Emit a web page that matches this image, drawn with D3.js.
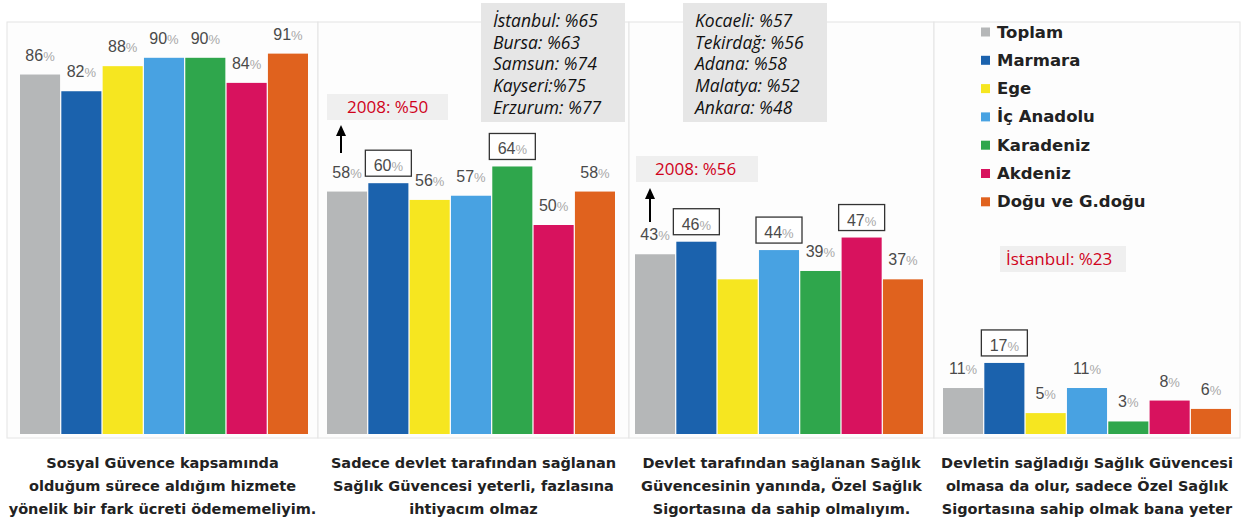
<!DOCTYPE html>
<html><head><meta charset="utf-8">
<script src="https://cdn.jsdelivr.net/npm/d3@7"></script>
<style>body{margin:0;background:#fff}svg{display:block}</style>
</head><body>
<script>
const series = ["Toplam","Marmara","Ege","İç Anadolu","Karadeniz","Akdeniz","Doğu ve G.doğu"];
const colors = ["#b5b7b8","#1b62ad","#f6e620","#48a2e2","#2fa64c","#d8125e","#e0621e"];
const panel1 = [86,82,88,90,90,84,91];
const panel2 = [58,60,56,57,64,50,58];
const panel3 = [43,46,37,44,39,47,37];
const panel4 = [11,17,5,11,3,8,6];
const panelValues = [panel1,panel2,panel3,panel4];
const labels1 = ["86%","82%","88%","90%","90%","84%","91%"];
const labels2 = ["58%","60%","56%","57%","64%","50%","58%"];
const labels3 = ["43%","46%","","44%","39%","47%","37%"];
const labels4 = ["11%","17%","5%","11%","3%","8%","6%"];
const panelLabels = [labels1,labels2,labels3,labels4];
const boxed = [[],[1,4],[1,3,5],[1]];
const captions = [
 ["Sosyal Güvence kapsamında","olduğum sürece aldığım hizmete","yönelik bir fark ücreti ödememeliyim."],
 ["Sadece devlet tarafından sağlanan","Sağlık Güvencesi  yeterli, fazlasına","ihtiyacım olmaz"],
 ["Devlet tarafından sağlanan Sağlık","Güvencesinin yanında, Özel Sağlık","Sigortasına da sahip olmalıyım."],
 ["Devletin sağladığı Sağlık Güvencesi","olmasa da olur, sadece Özel Sağlık","Sigortasına sahip olmak bana yeter"]
];
const cities2 = ["İstanbul: %65","Bursa: %63","Samsun: %74","Kayseri:%75","Erzurum: %77"];
const cities3 = ["Kocaeli: %57","Tekirdağ: %56","Adana: %58","Malatya: %52","Ankara: %48"];
const note2 = "2008: %50", note3 = "2008: %56", note4 = "İstanbul: %23";

const W=1250,H=530;
const svg=d3.select("body").append("svg").attr("width",W).attr("height",H);
const y=d3.scaleLinear().domain([0,100]).range([434,16]);
const panelX=[7,318,629,934], panelW=[311,311,305,306];
const barStart=[20,327,635,943];

// frames
panelX.forEach((px,i)=>{
  svg.append("rect").attr("x",px).attr("y",22).attr("width",panelW[i]).attr("height",416)
    .attr("fill","#fdfdfd").attr("stroke","#e4e4e4").attr("stroke-width",1);
});
svg.append("rect").attr("x",0).attr("y",439).attr("width",W).attr("height",91).attr("fill","#fff");

const fontVal="'Liberation Sans', Arial, sans-serif";
const fontWide="'DejaVu Sans', sans-serif";
panelValues.forEach((vals,pi)=>{
  const x=d3.scaleBand().domain(series).range([barStart[pi],barStart[pi]+288]).paddingInner(0.03);
  const g=svg.append("g");
  g.selectAll("rect.bar").data(vals).join("rect").attr("class","bar")
    .attr("x",(d,i)=>x(series[i])).attr("width",x.bandwidth())
    .attr("y",d=>y(d)).attr("height",d=>y(0)-y(d)).attr("fill",(d,i)=>colors[i]);
  vals.forEach((v,i)=>{
    const lab=panelLabels[pi][i]; if(!lab) return;
    const cx=x(series[i])+x.bandwidth()/2;
    const isBox=boxed[pi].includes(i);
    const base = isBox ? y(v)-12 : y(v)-14;
    if(isBox){
      g.append("rect").attr("x",cx-23).attr("y",y(v)-33).attr("width",46).attr("height",26)
        .attr("fill","#fff").attr("stroke","#333").attr("stroke-width",1.3);
    }
    const t=g.append("text").attr("x",cx).attr("y",base).attr("text-anchor","middle")
      .attr("font-family",fontVal).attr("font-size",16).attr("fill","#4a4a4a");
    t.append("tspan").text(lab.replace("%",""));
    t.append("tspan").attr("fill","#a8a8a8").attr("font-size",13).text("%");
  });
});

// legend
const lg=svg.append("g");
series.forEach((s,i)=>{
  const yy=32+i*28.3;
  lg.append("rect").attr("x",981).attr("y",yy-4.5).attr("width",9).attr("height",9).attr("fill",colors[i]);
  lg.append("text").attr("x",997).attr("y",yy+5.5).attr("font-family",fontWide).attr("font-weight","bold")
    .attr("font-size",16.5).attr("fill","#222").text(s);
});

// city boxes
function cityBox(x0,w,lines,tx){
  svg.append("rect").attr("x",x0).attr("y",3).attr("width",w).attr("height",119).attr("fill","#e6e6e6");
  lines.forEach((l,i)=>{
    svg.append("text").attr("x",tx).attr("y",27+i*21.7).attr("font-family","'Open Sans', 'Noto Sans', sans-serif")
      .attr("font-style","italic").attr("font-size",17.5).attr("fill","#111").text(l);
  });
}
cityBox(481,144,cities2,493);
cityBox(683,144,cities3,695);

// red notes
function note(x0,y0,w,txt,tx){
  svg.append("rect").attr("x",x0).attr("y",y0).attr("width",w).attr("height",26).attr("fill","#efefef");
  svg.append("text").attr("x",tx).attr("y",y0+19).attr("font-family","'Open Sans', 'Noto Sans', sans-serif")
    .attr("font-size",17).attr("fill","#d0021b").text(txt);
}
note(327,94,121,note2,347);
note(636,156,122,note3,655);
note(1000,246,126,note4,1006);

// arrows
function arrow(x,y1,y2){
  svg.append("line").attr("x1",x).attr("x2",x).attr("y1",y2).attr("y2",y1+8).attr("stroke","#000").attr("stroke-width",2);
  svg.append("path").attr("d",`M${x},${y1} L${x-5},${y1+11} L${x+5},${y1+11} Z`).attr("fill","#000");
}
arrow(341,125,153);
arrow(650,188,222);

// captions
captions.forEach((lines,pi)=>{
  const cx=panelX[pi]+panelW[pi]/2;
  lines.forEach((l,li)=>{
    svg.append("text").attr("x",cx).attr("y",468+li*23).attr("text-anchor","middle")
      .attr("font-family",fontWide).attr("font-weight","bold").attr("font-size",14.5).attr("fill","#222").text(l);
  });
});
</script>
</body></html>
